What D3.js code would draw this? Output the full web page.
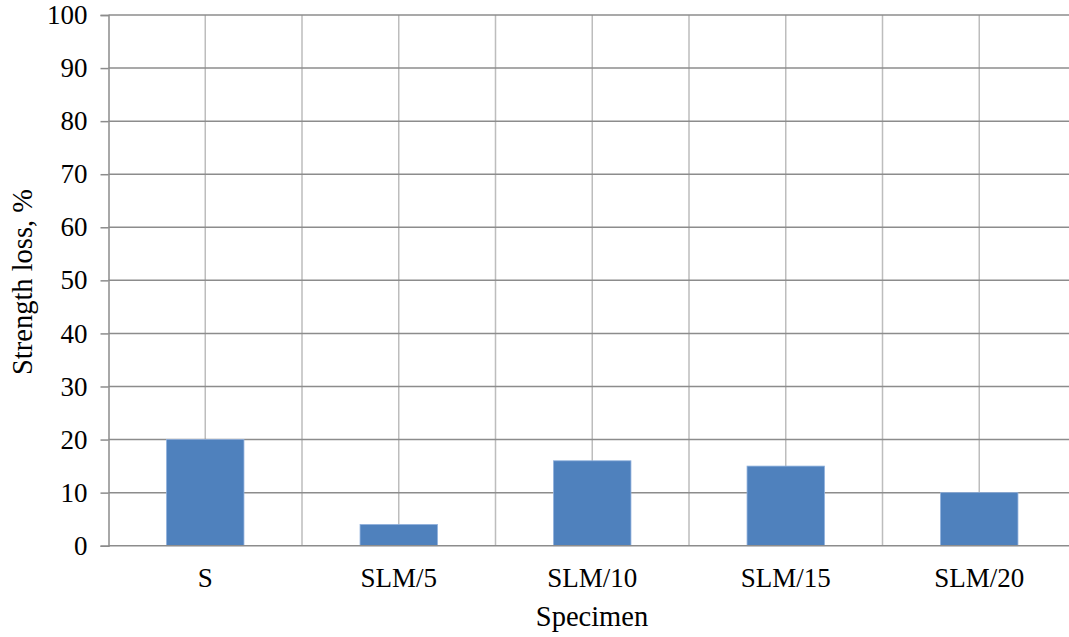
<!DOCTYPE html>
<html><head><meta charset="utf-8">
<script src="https://cdn.jsdelivr.net/npm/d3@7"></script>
<style>
html,body{margin:0;padding:0;background:#fff;overflow:hidden}
svg{display:block;font-family:"Liberation Serif","Times New Roman",serif}
</style></head>
<body>
<script>
const categories = ["S", "SLM/5", "SLM/10", "SLM/15", "SLM/20"];
const strengthLoss = [20, 4, 16, 15, 10];
const yTicks = [0, 10, 20, 30, 40, 50, 60, 70, 80, 90, 100];
const xTitle = "Specimen";
const yTitle = "Strength loss, %";

const W = 1069, H = 637;
const m = {left: 108.5, top: 15, bottom: 545.7, right: 1076};
const FONT = "Liberation Serif, Times New Roman, serif";
const svg = d3.select("body").append("svg").attr("width", W).attr("height", H);

const x = d3.scaleBand().domain(categories).range([m.left, m.right]).paddingInner(0).paddingOuter(0);
const y = d3.scaleLinear().domain([0, 100]).range([m.bottom, m.top]);

// vertical gridlines (band boundaries and centers)
const vLines = [];
categories.forEach((c, i) => {
  if (i > 0) vLines.push(x(c));
  vLines.push(x(c) + x.bandwidth() / 2);
});
vLines.push(m.right);
svg.append("g").selectAll("line").data(vLines).join("line")
  .attr("x1", d => d).attr("x2", d => d)
  .attr("y1", m.top).attr("y2", m.bottom)
  .attr("stroke", "#bdbdbd").attr("stroke-width", 1.5);

// horizontal gridlines
svg.append("g").selectAll("line").data(yTicks.filter(d => d > 0)).join("line")
  .attr("x1", m.left).attr("x2", m.right)
  .attr("y1", d => y(d)).attr("y2", d => y(d))
  .attr("stroke", "#8c8c8c").attr("stroke-width", 1.5);

// bars
const bw = x.bandwidth() * 0.4;
svg.append("g").selectAll("rect").data(categories).join("rect")
  .attr("x", (c) => x(c) + (x.bandwidth() - bw) / 2)
  .attr("width", bw)
  .attr("y", (c, i) => y(strengthLoss[i]))
  .attr("height", (c, i) => y(0) - y(strengthLoss[i]))
  .attr("fill", "#4f81bd")
  .attr("stroke", "#8fb0dc").attr("stroke-width", 0.8);

// y axis
const yAxis = d3.axisLeft(y).tickValues(yTicks).tickSize(8).tickPadding(13).tickFormat(d3.format("d"));
const gy = svg.append("g").attr("transform", `translate(${m.left},0)`).call(yAxis);
gy.attr("font-family", FONT).attr("font-size", 27);
gy.select(".domain").attr("stroke", "#8c8c8c").attr("stroke-width", 1.5);
gy.selectAll(".tick line").attr("stroke", "#8c8c8c").attr("stroke-width", 1.5);
gy.selectAll(".tick text").attr("fill", "#000");

// x axis
const xAxis = d3.axisBottom(x).tickSize(0).tickPadding(22);
const gx = svg.append("g").attr("transform", `translate(0,${m.bottom})`).call(xAxis);
gx.attr("font-family", FONT).attr("font-size", 27);
gx.select(".domain").remove();
svg.append("line").attr("x1", m.left).attr("x2", m.right)
  .attr("y1", m.bottom).attr("y2", m.bottom)
  .attr("stroke", "#8c8c8c").attr("stroke-width", 1.5);
gx.selectAll(".tick text").attr("fill", "#000");

// titles
svg.append("text").attr("x", 592).attr("y", 626).attr("text-anchor", "middle")
  .attr("font-family", FONT).attr("font-size", 28.5).attr("fill", "#000").text(xTitle);
svg.append("text").attr("transform", `translate(32,282) rotate(-90)`)
  .attr("text-anchor", "middle").attr("font-family", FONT)
  .attr("font-size", 28.5).attr("fill", "#000").text(yTitle);
</script>
</body></html>
